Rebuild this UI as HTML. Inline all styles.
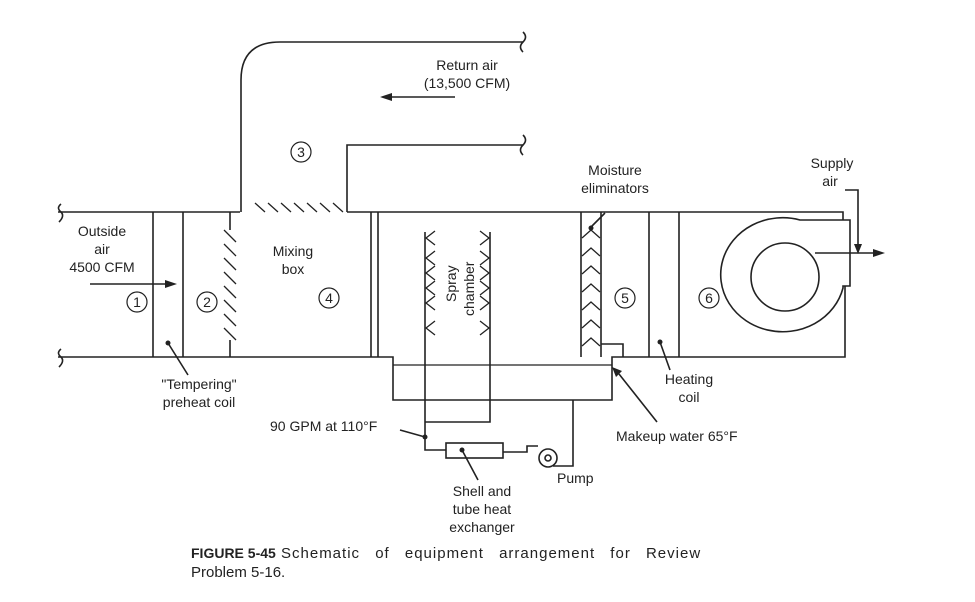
<!DOCTYPE html>
<html><head><style>body{margin:0;background:#fff}svg{display:block}text{font-family:"Liberation Sans",sans-serif;font-size:14px;fill:#222}</style></head><body>
<svg width="975" height="602" viewBox="0 0 975 602" xmlns="http://www.w3.org/2000/svg">
<g fill="none" stroke="#222" stroke-width="1.6">
<path d="M58 212 H240 M347 212 H843 V220"/>
<path d="M61 204 q-5 4 0 8 q4 4 -2 10"/>
<path d="M58 357 H393 V400 H612 V357 H845 V286"/>
<path d="M61 349 q-5 4 0 8 q4 4 -2 10"/>
<path d="M393 365 H612" stroke-width="1.2"/>
<path d="M241 212 V80 Q241 42 280 42 H523"/>
<path d="M347 212 V145 H523"/>
<path d="M523 32 q5 5 0 10 q-5 5 0 10 M523 135 q5 5 0 10 q-5 5 0 10"/>
<path d="M255 203 l10 9 M268 203 l10 9 M281 203 l10 9 M294 203 l10 9 M307 203 l10 9 M320 203 l10 9 M333 203 l10 9" stroke-width="1.3"/>
<path d="M153 212 V357 M183 212 V357"/>
<path d="M230 212 V230 M230 340 V357"/>
<path d="M224 230 l12 12 M224 244 l12 12 M224 258 l12 12 M224 272 l12 12 M224 286 l12 12 M224 300 l12 12 M224 314 l12 12 M224 328 l12 12" stroke-width="1.3"/>
<path d="M371 212 V357 M378 212 V357"/>
<path d="M425 232 V450 H446 M490 232 V422 H425"/>
<path d="M435 231 l-9 7 9 7 M435 251 l-9 7 9 7 M435 266 l-9 7 9 7 M435 281 l-9 7 9 7 M435 296 l-9 7 9 7 M435 321 l-9 7 9 7" stroke-width="1.3"/>
<path d="M480 231 l9 7 -9 7 M480 251 l9 7 -9 7 M480 266 l9 7 -9 7 M480 281 l9 7 -9 7 M480 296 l9 7 -9 7 M480 321 l9 7 -9 7" stroke-width="1.3"/>
<path d="M581 212 V357 M601 212 V357 M601 344 H623 V357"/>
<path d="M582 238 l9 -8 9 8 M582 256 l9 -8 9 8 M582 274 l9 -8 9 8 M582 292 l9 -8 9 8 M582 310 l9 -8 9 8 M582 328 l9 -8 9 8 M582 346 l9 -8 9 8" stroke-width="1.3"/>
<path d="M649 212 V357 M679 212 V357"/>
<path d="M843 288 A62 57 0 1 1 800 220 H850 V286 H843 Z" fill="#fff"/>
<circle cx="785" cy="277" r="34"/>
<path d="M815 253 H875"/>
<path d="M845 190 H858 V250"/>
<rect x="446" y="443" width="57" height="15"/>
<path d="M503 452 H527 V446 H538 M573 400 V466 H553"/>
<circle cx="548" cy="458" r="9"/><circle cx="548" cy="458" r="3"/>
<path d="M385 97 H455 M90 284 H168 M605 213 L590 228 M168 343 L188 375 M660 342 L670 370 M400 430 L425 437 M619 374 L657 422 M462 450 L478 480"/>
</g>
<g fill="#222">
<path d="M177 284 l-12 -4 v8z M380 97 l12 -4 v8z M885 253 l-12 -4 v8z M858 254 l-4 -10 h8z M612 367 l4 10 l6 -6z"/>
<circle cx="168" cy="343" r="2.5"/><circle cx="660" cy="342" r="2.5"/><circle cx="591" cy="228" r="2.5"/><circle cx="425" cy="437" r="2.5"/><circle cx="462" cy="450" r="2.5"/>
</g>
<g fill="none" stroke="#222" stroke-width="1.2">
<circle cx="137" cy="302" r="10"/><circle cx="207" cy="302" r="10"/><circle cx="301" cy="152" r="10"/><circle cx="329" cy="298" r="10"/><circle cx="625" cy="298" r="10"/><circle cx="709" cy="298" r="10"/>
</g>
<g text-anchor="middle">
<text x="137" y="307">1</text><text x="207" y="307">2</text><text x="301" y="157">3</text><text x="329" y="303">4</text><text x="625" y="303">5</text><text x="709" y="303">6</text>
<text x="467" y="70">Return air</text><text x="467" y="88">(13,500 CFM)</text>
<text x="102" y="236">Outside</text><text x="102" y="254">air</text><text x="102" y="272">4500 CFM</text>
<text x="293" y="256">Mixing</text><text x="293" y="274">box</text>
<text x="615" y="175">Moisture</text><text x="615" y="193">eliminators</text>
<text x="832" y="168">Supply</text><text x="830" y="186">air</text>
<text x="199" y="389">"Tempering"</text><text x="199" y="407">preheat coil</text>
<text x="689" y="384">Heating</text><text x="689" y="402">coil</text>
<text x="482" y="496">Shell and</text><text x="482" y="514">tube heat</text><text x="482" y="532">exchanger</text>
</g>
<text x="456" y="302" transform="rotate(-90 456 302)">Spray</text>
<text x="474" y="316" transform="rotate(-90 474 316)">chamber</text>
<text x="270" y="431">90 GPM at 110°F</text>
<text x="616" y="441">Makeup water 65°F</text>
<text x="557" y="483">Pump</text>
<text x="191" y="558" style="font-size:14px" font-weight="bold">FIGURE 5-45</text>
<text x="281" y="558" style="font-size:15px;letter-spacing:1px;word-spacing:10px">Schematic of equipment arrangement for Review</text>
<text x="191" y="577" style="font-size:15px">Problem 5-16.</text>
</svg>
</body></html>
